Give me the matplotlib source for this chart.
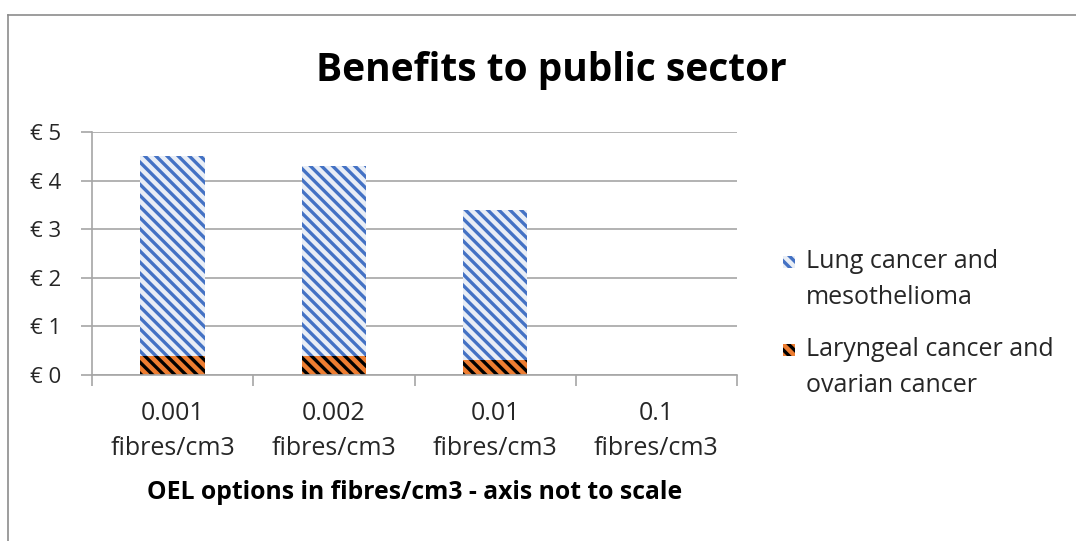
import matplotlib
matplotlib.use("Agg")
import matplotlib.pyplot as plt
from matplotlib.patches import Rectangle
from matplotlib.lines import Line2D

# Data
categories = ["0.001\nfibres/cm3", "0.002\nfibres/cm3", "0.01\nfibres/cm3", "0.1\nfibres/cm3"]
laryngeal_ovarian = [0.4, 0.4, 0.3, 0.0]
lung_meso = [4.1, 3.9, 3.1, 0.0]
y_ticks = [0, 1, 2, 3, 4, 5]
y_tick_labels = ["€ 0", "€ 1", "€ 2", "€ 3", "€ 4", "€ 5"]
series_names = ["Lung cancer and\nmesothelioma", "Laryngeal cancer and\novarian cancer"]

FONT = "Open Sans"
TEXT = "#262626"
GRID = "#A6A6A6"
BLUE = "#4472C4"
BLUE_BG = "#E9EEF6"
ORANGE = "#ED7D31"

plt.rcParams["font.family"] = [FONT, "DejaVu Sans"]
plt.rcParams["hatch.linewidth"] = 2.4

W, H = 1076, 541
fig = plt.figure(figsize=(W / 100, H / 100), dpi=100)

# Outer chart frame (top and left edges)
fig.add_artist(Line2D([8 / W, 1.0], [1 - 15 / H, 1 - 15 / H], transform=fig.transFigure,
                      color="#8C8C8C", lw=1.2))
fig.add_artist(Line2D([8 / W, 8 / W], [0.0, 1 - 15 / H], transform=fig.transFigure,
                      color="#8C8C8C", lw=1.2))

ax = fig.add_axes([92 / W, 1 - 375 / H, (737 - 92) / W, (375 - 132) / H])

x = list(range(len(categories)))
bw = 0.4
ax.bar(x, laryngeal_ovarian, width=bw, color=ORANGE, edgecolor="black", linewidth=0,
       hatch="\\\\\\", zorder=3)
ax.bar(x, lung_meso, width=bw, bottom=laryngeal_ovarian, color=BLUE_BG, edgecolor=BLUE,
       linewidth=0, hatch="\\\\\\", zorder=3)

ax.set_xlim(-0.5, len(categories) - 0.5)
ax.set_ylim(0, 5)
ax.set_yticks(y_ticks)
ax.set_yticklabels(y_tick_labels, fontsize=16, color=TEXT)
ax.set_xticks(x)
ax.set_xticklabels(categories, fontsize=18, color=TEXT, linespacing=1.5)
ax.set_xticks([i - 0.5 for i in range(len(categories) + 1)], minor=True)
ax.tick_params(axis="x", which="major", length=0, pad=19)
ax.tick_params(axis="x", which="minor", length=8, color=GRID, width=1.2)
ax.tick_params(axis="y", length=8, color=GRID, width=1.2, pad=14)

ax.grid(axis="y", color=GRID, lw=1.2, zorder=0)
for s in ["top", "right"]:
    ax.spines[s].set_visible(False)
for s in ["left", "bottom"]:
    ax.spines[s].set_color(GRID)
    ax.spines[s].set_linewidth(1.2)
ax.spines["bottom"].set_zorder(4)

ax.set_xlabel("OEL options in fibres/cm3 - axis not to scale", fontsize=17.8,
              fontweight="bold", color="black", labelpad=14)

fig.text(551 / W, 1 - 71 / H, "Benefits to public sector", fontsize=28, fontweight="bold",
         ha="center", va="center", color="black")

# Legend built from patches and text, one text line at a time
legend_items = [
    (series_names[0], BLUE_BG, BLUE, 262),
    (series_names[1], ORANGE, "black", 350),
]
for label, face, hcol, yc in legend_items:
    fig.add_artist(Rectangle((783 / W, 1 - (yc + 6) / H), 12 / W, 12 / H,
                             transform=fig.transFigure, facecolor=face, edgecolor=hcol,
                             linewidth=0, hatch="\\\\\\"))
    for k, line in enumerate(label.split("\n")):
        fig.text(806 / W, 1 - (yc + 35 * k) / H, line, fontsize=18, color=TEXT,
                 ha="left", va="center")

fig.savefig("out.png", dpi=100)
